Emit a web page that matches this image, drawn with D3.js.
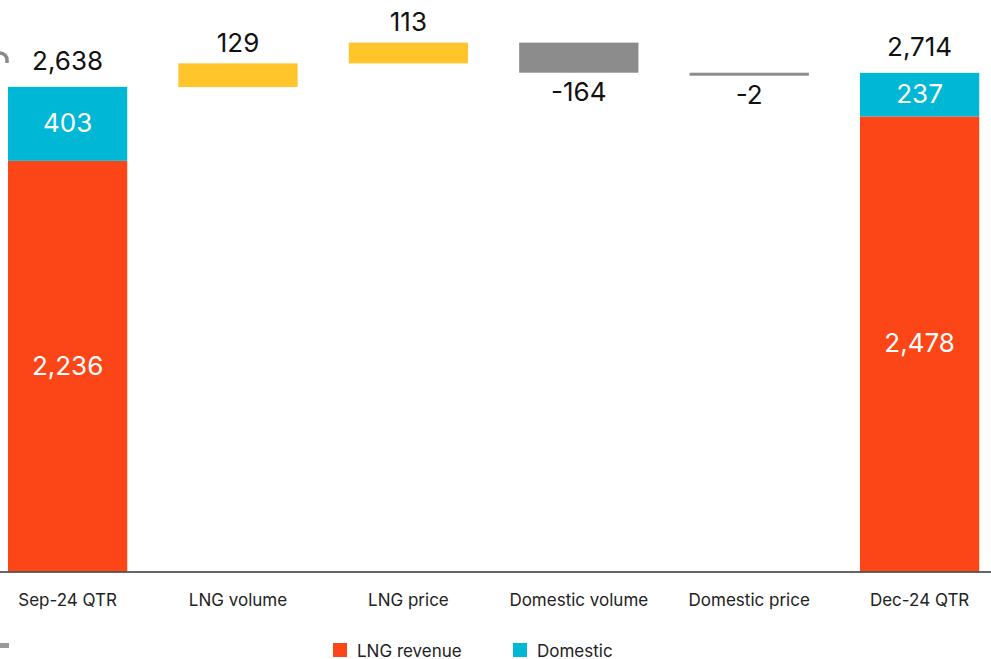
<!DOCTYPE html>
<html>
<head>
<meta charset="utf-8">
<script src="https://cdn.jsdelivr.net/npm/d3@7"></script>
<style>
  html, body { margin: 0; padding: 0; background: #fff; }
  svg { display: block; font-family: Inter, "Noto Sans", Arial, sans-serif; }
</style>
</head>
<body>
<svg id="chart" width="991" height="659"></svg>
<script>
// Revenue bridge, quarter to quarter (US$m)
const categories = ["Sep-24 QTR", "LNG volume", "LNG price", "Domestic volume", "Domestic price", "Dec-24 QTR"];
const lngRevenue = [2236, null, null, null, null, 2478];
const domestic   = [403, null, null, null, null, 237];
const totals     = [2638, null, null, null, null, 2714];
const deltas     = [null, 129, 113, -164, -2, null];

const colors = {
  lng: "#FC4618",
  domestic: "#00B8D5",
  up: "#FFC52B",
  down: "#8C8C8C",
  text: "#111",
  axisText: "#222"
};

const W = 991, H = 659;
const svg = d3.select("#chart");

// running totals for the floating steps
const steps = [];
let running = totals[0];
categories.forEach((c, i) => {
  if (deltas[i] !== null) {
    const start = running;
    const end = running + deltas[i];
    steps.push({ cat: c, start, end, value: deltas[i] });
    running = end;
  }
});

const yMax = d3.max([
  ...steps.map(s => Math.max(s.start, s.end)),
  ...totals.filter(v => v !== null)
]);

const x = d3.scaleBand()
  .domain(categories)
  .range([-17.6, 1004.8])
  .paddingInner(0.3)
  .paddingOuter(0.15);

const y = d3.scaleLinear()
  .domain([0, yMax])
  .range([571.5, 42.6]);

// plain hyphen for negatives
const fmt = v => d3.format(",")(v).replace("\u2212", "-");
const bw = x.bandwidth();
const valueSize = 26;

// stacked total columns
categories.forEach((c, i) => {
  if (lngRevenue[i] === null) return;
  const x0 = x(c);
  const lngTop = lngRevenue[i];
  const domTop = lngRevenue[i] + domestic[i];
  svg.append("rect")
    .attr("x", x0).attr("width", bw)
    .attr("y", y(lngTop)).attr("height", y(0) - y(lngTop))
    .attr("fill", colors.lng);
  svg.append("rect")
    .attr("x", x0).attr("width", bw)
    .attr("y", y(domTop)).attr("height", y(lngTop) - y(domTop))
    .attr("fill", colors.domestic);

  svg.append("text")
    .attr("x", x0 + bw / 2).attr("y", (y(0) + y(lngTop)) / 2 - 1)
    .attr("text-anchor", "middle").attr("dominant-baseline", "central")
    .attr("fill", "#fff").attr("font-size", valueSize)
    .text(fmt(lngRevenue[i]));
  svg.append("text")
    .attr("x", x0 + bw / 2).attr("y", (y(lngTop) + y(domTop)) / 2 - 1)
    .attr("text-anchor", "middle").attr("dominant-baseline", "central")
    .attr("fill", "#fff").attr("font-size", valueSize)
    .text(fmt(domestic[i]));
  svg.append("text")
    .attr("x", x0 + bw / 2).attr("y", y(domTop) - 26)
    .attr("text-anchor", "middle").attr("dominant-baseline", "central")
    .attr("fill", colors.text).attr("font-size", valueSize)
    .text(fmt(totals[i]));
});

// floating change bars
steps.forEach(s => {
  const x0 = x(s.cat);
  const top = y(Math.max(s.start, s.end));
  const bot = y(Math.min(s.start, s.end));
  const h = Math.max(bot - top, 3);
  svg.append("rect")
    .attr("x", x0).attr("width", bw)
    .attr("y", s.value < 0 ? top : bot - h)
    .attr("height", h)
    .attr("fill", s.value >= 0 ? colors.up : colors.down);
  svg.append("text")
    .attr("x", x0 + bw / 2)
    .attr("y", s.value >= 0 ? top - 21 : top + h + 19)
    .attr("text-anchor", "middle").attr("dominant-baseline", "central")
    .attr("fill", colors.text).attr("font-size", valueSize)
    .text(fmt(s.value));
});

// category axis
const axis = svg.append("g")
  .attr("transform", `translate(0,${y(0)})`)
  .call(d3.axisBottom(x).tickSize(0).tickPadding(22));
axis.select(".domain").remove();
axis.selectAll("text")
  .attr("font-size", 17)
  .attr("font-family", "Inter, 'Noto Sans', Arial, sans-serif")
  .attr("fill", colors.axisText);
svg.append("line")
  .attr("x1", 0).attr("x2", W)
  .attr("y1", y(0) + 0.5).attr("y2", y(0) + 0.5)
  .attr("stroke", "#333").attr("stroke-width", 1.6);

// legend
const legend = [
  { label: "LNG revenue", color: colors.lng, x: 333 },
  { label: "Domestic", color: colors.domestic, x: 513 }
];
legend.forEach(l => {
  svg.append("rect")
    .attr("x", l.x).attr("y", 643).attr("width", 14).attr("height", 14)
    .attr("fill", l.color);
  svg.append("text")
    .attr("x", l.x + 24).attr("y", 650.5)
    .attr("dominant-baseline", "central")
    .attr("font-size", 17).attr("fill", colors.axisText)
    .text(l.label);
});

// page edge ornaments
svg.append("path")
  .attr("d", "M0,53 A7,7 0 0 1 7,60 L7,63")
  .attr("fill", "none").attr("stroke", "#8a8a8a").attr("stroke-width", 3.5);
svg.append("rect")
  .attr("x", 0).attr("y", 643).attr("width", 9).attr("height", 5)
  .attr("fill", "#999");
</script>
</body>
</html>
